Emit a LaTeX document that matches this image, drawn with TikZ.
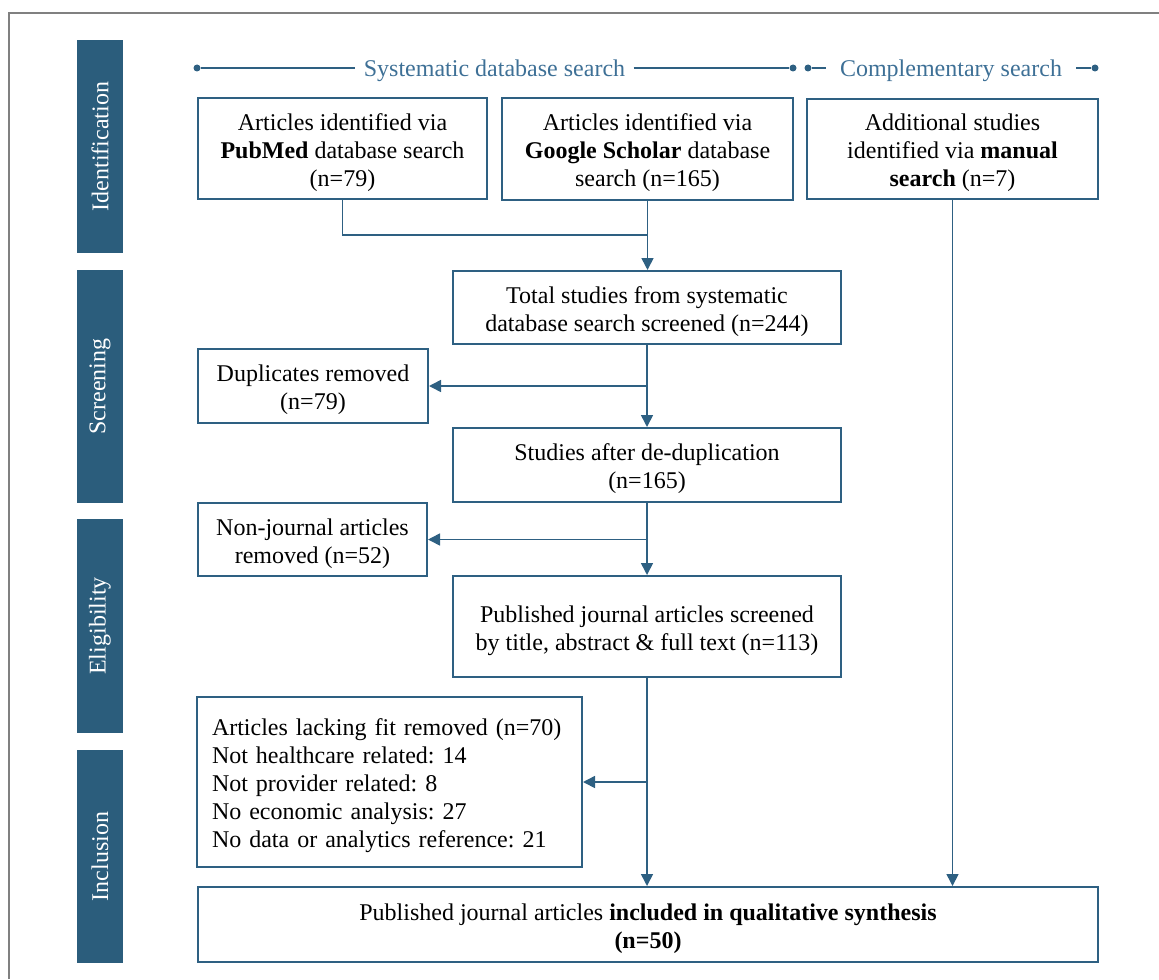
\documentclass[tikz,border=0pt]{standalone}
\usepackage{fontspec}
\setmainfont{Liberation Serif}
\usetikzlibrary{arrows.meta, positioning, calc}
\definecolor{primary}{RGB}{46, 96, 130}
\definecolor{sidebar}{RGB}{43, 93, 124}
\definecolor{header}{RGB}{62, 112, 150}
\definecolor{framegray}{RGB}{128, 128, 128}
\frenchspacing
\newcommand{\topstrut}{\rule{0pt}{12.5pt}}
\tikzset{
    base/.style={text centered, font=\fontsize{12}{14}\selectfont},
    box/.style={base, rectangle, draw=primary, line width=1pt, align=center, inner sep=0pt},
    phase/.style={base, rectangle, fill=sidebar, text=white, rotate=90, minimum height=23pt, inner sep=0pt},
    line/.style={line width=0.8pt, draw=primary},
    arrow/.style={line, -{Triangle[length=6pt, width=6pt]}},
    heading/.style={base, text=header, inner ysep=0pt, text depth=0pt},
    dot/.style={circle, fill=primary, inner sep=0pt, minimum size=3.5pt},
    hline/.style={line width=0.75pt, draw=primary}
}

\begin{document}
\begin{tikzpicture}[x=0.5pt, y=-0.5pt]
        \useasboundingbox (0,0) rectangle (1159,979);
        \draw [framegray, line width=0.8pt] (9,979) -- (9,13) -- (1159,13);

        % -- Phase bars --
        \node (ident) [phase, minimum width=106.5pt] at (100,146.5) {Identification};
        \node (screen) [phase, minimum width=116.5pt] at (100,386.5) {Screening};
        \node (elig) [phase, minimum width=107pt] at (100,626) {Eligibility};
        \node (incl) [phase, minimum width=106.5pt] at (100,856.5) {Inclusion};

        % -- Headings --
        \node (sysL) [dot] at (197,68) {};
        \node (systxt) [heading, inner xsep=4pt] at (494.5,68) {Systematic database search};
        \node (sysR) [dot] at (793,68) {};
        \draw [hline] (sysL) -- (systxt) -- (sysR);
        \node (compL) [dot] at (808,68) {};
        \node (comptxt) [heading, inner xsep=7pt] at (951,68) {Complementary search};
        \node (compR) [dot] at (1095,68) {};
        \draw [hline] (compL) -- (comptxt) -- (compR);

        % -- Identification --
        \node (pubmed) [box, minimum width=144.5pt, minimum height=50.5pt] at (342.5,148.5) {\topstrut Articles identified via\\\textbf{PubMed} database search\\(n=79)};
        \node (scholar) [box, minimum width=145.5pt, minimum height=51pt] at (647.5,149) {\topstrut Articles identified via\\\textbf{Google Scholar} database\\search (n=165)};
        \node (manual) [box, minimum width=145.5pt, minimum height=50pt] at (952.5,149) {\topstrut Additional studies\\identified via \textbf{manual}\\\textbf{search} (n=7)};

        % -- Screening --
        \node (total) [box, minimum width=194pt, minimum height=36.5pt] at (647,307.5) {\topstrut Total studies from systematic\\database search screened (n=244)};
        \node (dup) [box, minimum width=115pt, minimum height=37pt] at (313,386) {\topstrut Duplicates removed\\(n=79)};
        \node (dedup) [box, minimum width=194pt, minimum height=37pt] at (647,465) {\topstrut Studies after de-duplication\\(n=165)};

        % -- Eligibility --
        \node (nonj) [box, minimum width=114.5pt, minimum height=36.5pt] at (312.5,539.5) {\topstrut Non-journal articles\\removed (n=52)};
        \node (screened) [box, minimum width=194pt, minimum height=50.5pt] at (647,626.5) {\topstrut Published journal articles screened\\by title, abstract \& full text (n=113)};

        % -- Inclusion --
        \node (lacking) [box, align=left, text width=177.5pt, inner xsep=7.5pt, minimum height=85pt] at (389.5,782) {\topstrut Articles lacking fit removed (n=70)\\Not healthcare related: 14\\Not provider related: 8\\No economic analysis: 27\\No data or analytics reference: 21};
        \node (final) [box, minimum width=450pt, minimum height=37.5pt] at (648,924.5) {\topstrut Published journal articles \textbf{included in qualitative synthesis}\\\textbf{(n=50)}};

        % Connectors
        \coordinate (join) at (scholar.south |- 0,235);
        \draw [line] (pubmed.south) |- (join);
        \draw [arrow] (scholar.south) -- (scholar.south |- total.north);
        \draw [arrow] (total.south) -- (total.south |- dedup.north);
        \draw [arrow] (total.south |- dup.east) -- (dup.east);
        \draw [arrow] (dedup.south) -- (dedup.south |- screened.north);
        \draw [arrow] (dedup.south |- nonj.east) -- (nonj.east);
        \draw [arrow] (screened.south) -- (screened.south |- final.north);
        \draw [arrow] (screened.south |- lacking.east) -- (lacking.east);
        \draw [arrow] (manual.south) -- (manual.south |- final.north);
    \end{tikzpicture}
\end{document}
